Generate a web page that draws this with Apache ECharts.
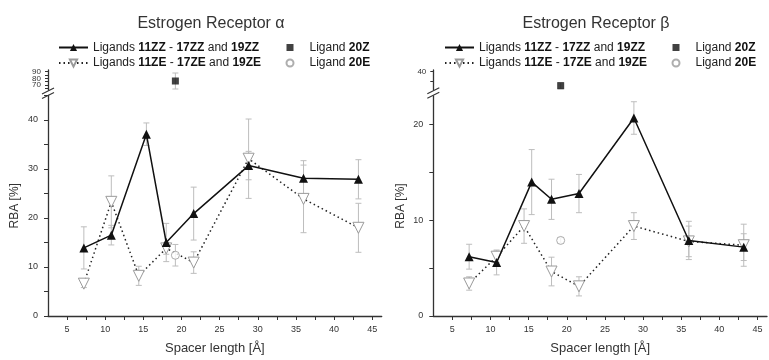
<!DOCTYPE html>
<html>
<head>
<meta charset="utf-8">
<script src="https://cdn.jsdelivr.net/npm/echarts@6/dist/echarts.min.js"></script>
<style>html,body{margin:0;padding:0;background:#fff;}#c{width:769px;height:360px;}</style>
</head>
<body>
<div id="c"></div>
<script>
// ---------- data ----------
const xTickLabels = [5, 10, 15, 20, 25, 30, 35, 40, 45];
const xZZ = [7.2, 10.8, 15.4, 18.0, 21.6, 28.8, 36.0, 43.2];
const xZE = [7.2, 10.8, 14.4, 18.0, 21.6, 28.8, 36.0, 43.2];
const x20 = 19.2;

// Estrogen Receptor alpha
const alphaZZ    = [13.9, 16.5, 37.1, 15.0, 20.9, 30.7, 28.1, 27.9];
const alphaZZerr = [4.3, 2.0, 2.3, 3.9, 5.4, 2.9, 3.6, 4.0];
const alphaZE    = [6.6, 23.3, 8.2, 13.8, 10.9, 32.1, 23.9, 18.0];
const alphaZEerr = [0.8, 5.3, 1.95, 1.2, 2.2, 8.1, 6.9, 5.0];
const alpha20Z = 76, alpha20Zerr = 12;
const alpha20E = 12.4, alpha20Eerr = 2.2;
const alphaLowTicks = [0, 10, 20, 30, 40];
const alphaHighTicks = [70, 80, 90];

// Estrogen Receptor beta
const betaZZ    = [6.2, 5.6, 14.0, 12.2, 12.8, 20.7, 7.9, 7.2];
const betaZZerr = [1.3, 1.3, 3.4, 2.1, 2.0, 1.7, 2.0, 1.4];
const betaZE    = [3.4, 6.2, 9.4, 4.65, 3.1, 9.4, 7.8, 7.4];
const betaZEerr = [0.7, 0.6, 1.8, 1.5, 1.0, 1.4, 1.6, 2.2];
const beta20Z = 33, beta20Zerr = 1.6;
const beta20E = 7.9, beta20Eerr = 0.3;
const betaLowTicks = [0, 10, 20];
const betaHighTicks = [40];

const titles = ['Estrogen Receptor \u03b1', 'Estrogen Receptor \u03b2'];
const nameZZ = 'Ligands 11ZZ - 17ZZ and 19ZZ';
const nameZE = 'Ligands 11ZE - 17ZE and 19ZE';
const name20Z = 'Ligand 20Z';
const name20E = 'Ligand 20E';

// ---------- helpers ----------
const FONT = 'Liberation Sans, Arial, sans-serif';
const AX = '#333';
function pairs(xs, ys) { return xs.map((x, i) => [x, ys[i]]); }
function errs(xs, ys, es) { return xs.map((x, i) => [x, ys[i] - es[i], ys[i] + es[i]]); }
function errRender(params, api) {
  const x = api.value(0), lo = api.value(1), hi = api.value(2);
  const a = api.coord([x, hi]), b = api.coord([x, lo]);
  const c = 3, st = { stroke: '#bdbdbd', lineWidth: 1 };
  return { type: 'group', children: [
    { type: 'line', shape: { x1: a[0], y1: a[1], x2: b[0], y2: b[1] }, style: st },
    { type: 'line', shape: { x1: a[0] - c, y1: a[1], x2: a[0] + c, y2: a[1] }, style: st },
    { type: 'line', shape: { x1: b[0] - c, y1: b[1], x2: b[0] + c, y2: b[1] }, style: st }
  ]};
}
function step(a, b, s) { const r = []; for (let v = a; v <= b + 1e-9; v += s) r.push(+v.toFixed(3)); return r; }

const PW = 333.7;
const panels = [
  { left: 48, lowTop: 95.5, lowBottom: 42, lowMax: 45, highTop: 70, highH: 20, highMin: 62.5, highMax: 92.5,
    lowTicks: alphaLowTicks, highTicks: alphaHighTicks, highMinor: step(65, 90, 5) },
  { left: 433.3, lowTop: 96, lowBottom: 41.7, lowMax: 23, highTop: 70, highH: 19.7, highMin: 31, highMax: 40.85,
    lowTicks: betaLowTicks, highTicks: betaHighTicks, highMinor: [35, 40] }
];

const grid = [], xAxis = [], yAxis = [];
const highLabelStyle = { hideOverlap: false, margin: 7, fontFamily: FONT, fontSize: 8, color: AX };
const extraAxes = [];
panels.forEach((p) => {
  grid.push({ left: p.left, top: p.lowTop, width: PW, bottom: p.lowBottom });
  grid.push({ left: p.left, top: p.highTop, width: PW, height: p.highH });
  const gi = grid.length - 2;
  xAxis.push({
    gridIndex: gi, type: 'value', min: 2.5, max: 46.25,
    name: 'Spacer length [\u00c5]', nameLocation: 'middle', nameGap: 26,
    nameTextStyle: { fontFamily: FONT, fontSize: 13, color: AX },
    axisLine: { onZero: false, lineStyle: { color: AX, width: 1.3 } },
    axisTick: { customValues: step(5, 45, 2.5), length: 4, lineStyle: { color: AX } },
    axisLabel: { customValues: xTickLabels, hideOverlap: false, margin: 9, fontFamily: FONT, fontSize: 9, color: AX },
    splitLine: { show: false }
  });
  xAxis.push({ gridIndex: gi + 1, type: 'value', min: 2.5, max: 46.25, show: false });
  yAxis.push({
    gridIndex: gi, type: 'value', min: 0, max: p.lowMax,
    name: 'RBA [%]', nameLocation: 'middle', nameGap: 27,
    nameTextStyle: { fontFamily: FONT, fontSize: 12, color: AX },
    axisLine: { show: true, lineStyle: { color: AX, width: 1.3 } },
    axisTick: { show: true, customValues: step(0, p.lowMax, 5), length: 4, lineStyle: { color: AX } },
    axisLabel: { customValues: p.lowTicks, hideOverlap: false, margin: 10, fontFamily: FONT, fontSize: 9, color: AX },
    splitLine: { show: false }
  });
  // labels of the compressed upper segment are split over two axes so that they can sit tightly
  const evenLabels = p.highTicks.filter((v, i) => i % 2 === 0);
  const oddLabels = p.highTicks.filter((v, i) => i % 2 === 1);
  yAxis.push({
    gridIndex: gi + 1, type: 'value', min: p.highMin, max: p.highMax,
    axisLine: { show: true, lineStyle: { color: AX, width: 1.3 } },
    axisTick: { show: true, customValues: p.highMinor, length: 3, lineStyle: { color: AX } },
    axisLabel: Object.assign({ customValues: evenLabels, showMinLabel: true, showMaxLabel: true }, highLabelStyle),
    splitLine: { show: false }
  });
  if (oddLabels.length) {
    extraAxes.push({
      gridIndex: gi + 1, type: 'value', min: p.highMin, max: p.highMax, position: 'left', offset: 0,
      axisLine: { show: false }, axisTick: { show: false },
      axisLabel: Object.assign({ customValues: oddLabels, showMinLabel: true, showMaxLabel: true }, highLabelStyle),
      splitLine: { show: false }
    });
  }
});
extraAxes.forEach((a) => yAxis.push(a));

function panelSeries(pi, ZZ, ZZe, ZE, ZEe, v20Z, e20Z, v20E, e20E) {
  const lo = pi * 2, hi = pi * 2 + 1;
  return [
    { type: 'custom', xAxisIndex: lo, yAxisIndex: lo, renderItem: errRender, z: 1, silent: true,
      encode: { x: 0, y: [1, 2] }, data: errs(xZE, ZE, ZEe) },
    { type: 'custom', xAxisIndex: lo, yAxisIndex: lo, renderItem: errRender, z: 1, silent: true,
      encode: { x: 0, y: [1, 2] }, data: errs(xZZ, ZZ, ZZe) },
    { type: 'custom', xAxisIndex: lo, yAxisIndex: lo, renderItem: errRender, z: 1, silent: true,
      encode: { x: 0, y: [1, 2] }, data: errs([x20], [v20E], [e20E]) },
    { type: 'custom', xAxisIndex: hi, yAxisIndex: hi, renderItem: errRender, z: 1, silent: true,
      encode: { x: 0, y: [1, 2] }, data: errs([x20], [v20Z], [e20Z]) },
    { name: nameZE, type: 'line', xAxisIndex: lo, yAxisIndex: lo, z: 2, animation: false,
      data: pairs(xZE, ZE), symbol: 'triangle', symbolRotate: 180, symbolSize: 11,
      lineStyle: { color: '#222', width: 1.5, type: [1.5, 3] },
      itemStyle: { color: '#fff', borderColor: '#9a9a9a', borderWidth: 1 } },
    { name: nameZZ, type: 'line', xAxisIndex: lo, yAxisIndex: lo, z: 3, animation: false,
      data: pairs(xZZ, ZZ), symbol: 'triangle', symbolSize: 9,
      lineStyle: { color: '#111', width: 1.5 },
      itemStyle: { color: '#111' } },
    { name: name20E, type: 'scatter', xAxisIndex: lo, yAxisIndex: lo, z: 3, animation: false,
      data: [[x20, v20E]], symbol: 'circle', symbolSize: 8,
      itemStyle: { color: '#fff', borderColor: '#9a9a9a', borderWidth: 1 } },
    { name: name20Z, type: 'scatter', xAxisIndex: hi, yAxisIndex: hi, z: 3, animation: false,
      data: [[x20, v20Z]], symbol: 'rect', symbolSize: 7,
      itemStyle: { color: '#111' } }
  ];
}

const series = [].concat(
  panelSeries(0, alphaZZ, alphaZZerr, alphaZE, alphaZEerr, alpha20Z, alpha20Zerr, alpha20E, alpha20Eerr),
  panelSeries(1, betaZZ, betaZZerr, betaZE, betaZEerr, beta20Z, beta20Zerr, beta20E, beta20Eerr)
);

const rich = {
  s: { width: 11, lineHeight: 14 },
  n: { fontFamily: FONT, fontSize: 12, color: '#222', lineHeight: 14 },
  b: { fontFamily: FONT, fontSize: 12, color: '#111', fontWeight: 'bold', lineHeight: 14 }
};
function legendFmt(name) {
  if (name === nameZZ) return '{n|Ligands }{b|11ZZ}{n| - }{b|17ZZ}{n| and }{b|19ZZ}';
  if (name === nameZE) return '{n|Ligands }{b|11ZE}{n| - }{b|17ZE}{n| and }{b|19ZE}';
  if (name === name20Z) return '{s| }{n|Ligand }{b|20Z}';
  return '{s| }{n|Ligand }{b|20E}';
}
const legend = [];
[0, 386].forEach((dx) => {
  legend.push({ left: 58 + dx, top: 40.5, orient: 'vertical', padding: 0, itemGap: 1.5,
    itemWidth: 29, itemHeight: 9, data: [nameZZ, nameZE], formatter: legendFmt,
    textStyle: { rich: rich, lineHeight: 14 }, selectedMode: false });
  legend.push({ left: 285.5 + dx, top: 40.5, orient: 'vertical', padding: 0, itemGap: 1.5,
    itemWidth: 7, itemHeight: 7, data: [name20Z, name20E], formatter: legendFmt,
    textStyle: { rich: rich, lineHeight: 14 }, selectedMode: false });
});

// axis break marks (decoration)
const graphic = [];
panels.forEach((p) => {
  const x = p.left, y0 = p.highTop + p.highH;
  [1, 5.5].forEach((d) => {
    graphic.push({ type: 'line', silent: true,
      shape: { x1: x - 6, y1: y0 + d + 3, x2: x + 6, y2: y0 + d - 3 },
      style: { stroke: AX, lineWidth: 1.2 } });
  });
});

const chart = echarts.init(document.getElementById('c'), null, { renderer: 'canvas' });
chart.setOption({
  backgroundColor: '#fff',
  animation: false,
  title: titles.map((t, i) => ({ text: t, left: [206, 591][i], top: 11, textAlign: 'center',
    textStyle: { fontFamily: FONT, fontSize: 16, fontWeight: 'normal', color: '#333' } })),
  legend: legend,
  grid: grid,
  xAxis: xAxis,
  yAxis: yAxis,
  series: series,
  graphic: graphic
});
</script>
</body>
</html>
